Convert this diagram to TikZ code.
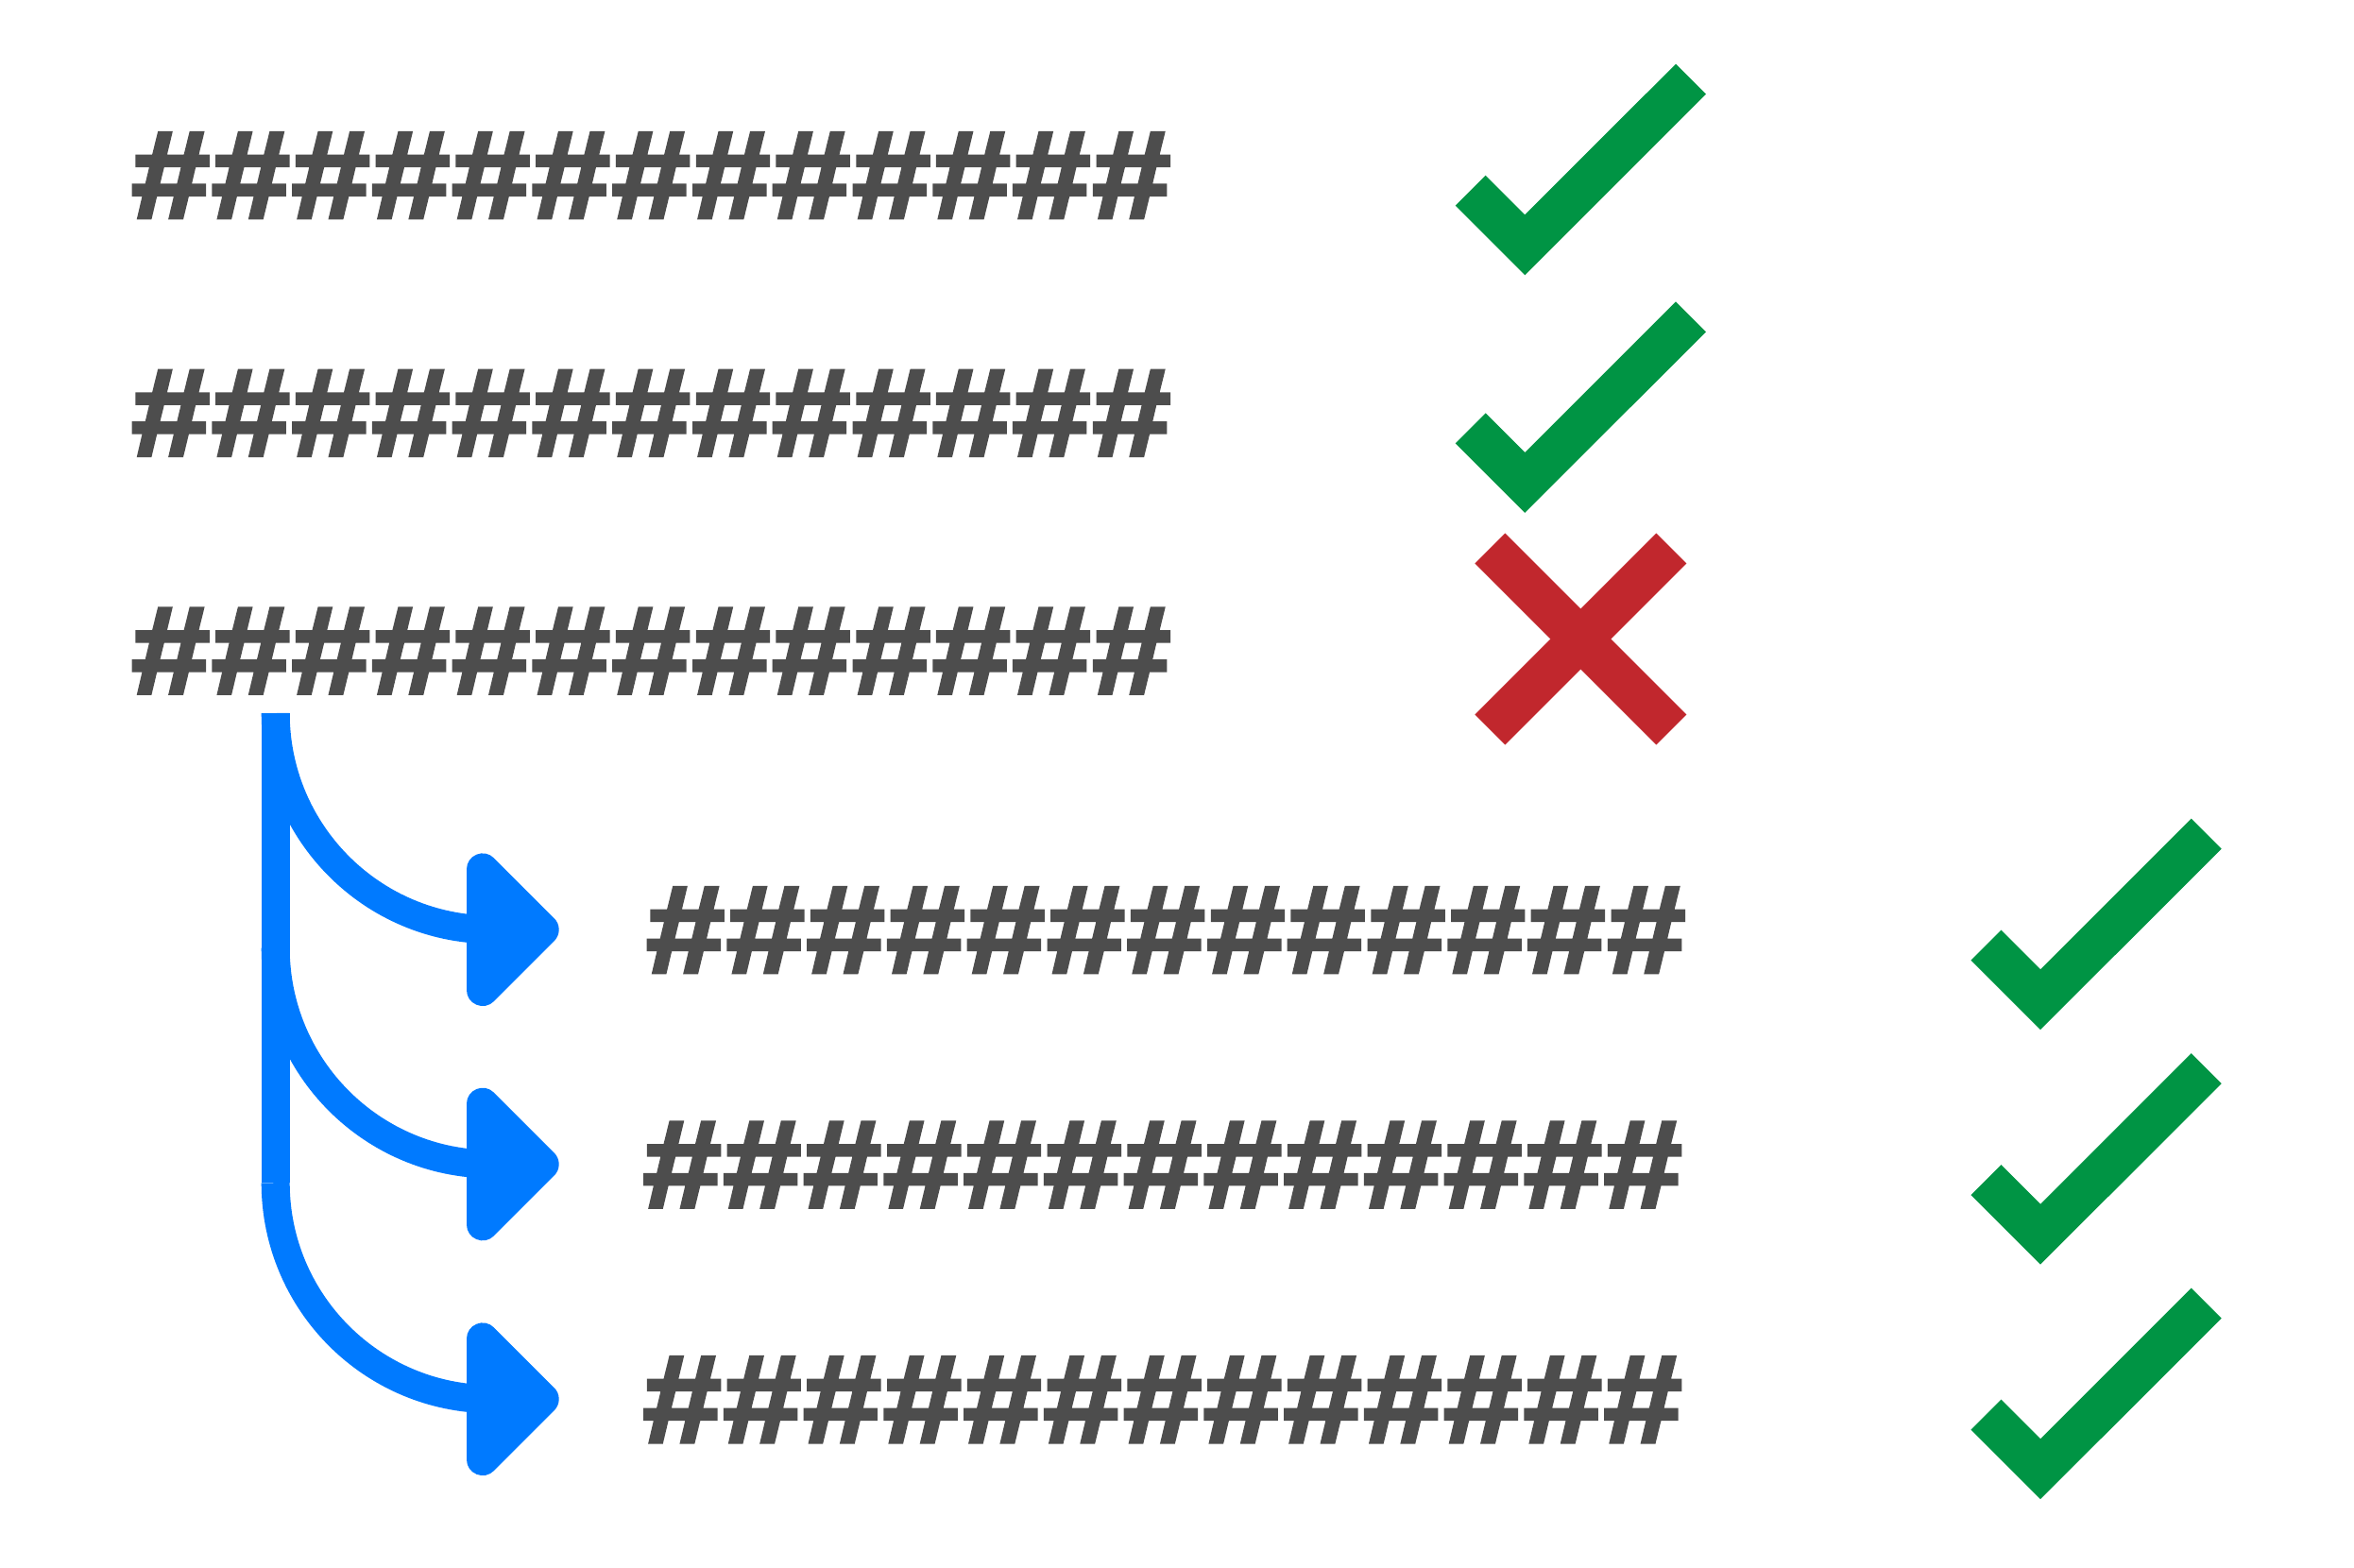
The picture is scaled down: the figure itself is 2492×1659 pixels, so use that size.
\documentclass[tikz,border=0pt]{standalone}
\usepackage{fontspec}
\newfontfamily\hashfont{Liberation Sans}[UprightFont=* Bold, FakeBold=3]
\definecolor{hashgray}{HTML}{4D4D4D}
\definecolor{okgreen}{HTML}{009444}
\definecolor{badred}{HTML}{C1272D}
\definecolor{flowblue}{HTML}{007AFF}
\newcommand\hk{\kern0.95pt}
\newcommand\hashline{\scalebox{1.13}[1]{\#\hk\#\hk\#\hk\#\hk\#\hk\#\hk\#\hk\#\hk\#\hk\#\hk\#\hk\#\hk\#}}
\tikzset{
  hashrow/.style={font=\hashfont\fontsize{65.75pt}{70pt}\selectfont, text=hashgray, inner sep=0pt, anchor=base west},
  tickline/.style={draw=okgreen, line width=22.6pt, line cap=butt, miter limit=10},
  crossline/.style={draw=badred, line width=22.6pt, line cap=butt},
  flowline/.style={draw=flowblue, line width=15pt, line cap=butt},
  headshape/.style={fill=flowblue, draw=flowblue, line width=16.9pt, line join=round},
  okmark/.pic={\draw[tickline] (-57.6,-57.6) -- (0,0) -- (175.7,-175.6);}
}
\begin{document}
\begin{tikzpicture}[x=0.5pt,y=-0.5pt]
\useasboundingbox (0,0) rectangle (2492,1659);
% hash rows
\node[hashrow] (r1) at (139,230.5) {\hashline};
\node[hashrow] (r2) at (139,482.2) {\hashline};
\node[hashrow] (r3) at (139,734) {\hashline};
\node[hashrow] (r4) at (684,1029.5) {\hashline};
\node[hashrow] (r5) at (680.4,1277.9) {\hashline};
\node[hashrow] (r6) at (680.4,1526.5) {\hashline};
% marks
\pic at (1614.3,259.3) {okmark};
\pic at (1614.3,510.9) {okmark};
\draw[crossline] (1577.3,580.5) -- (1769.3,772.5);
\draw[crossline] (1769.3,580.5) -- (1577.3,772.5);
\pic at (2160,1058.2) {okmark};
\pic at (2160,1306.7) {okmark};
\pic at (2160,1555.2) {okmark};
% flow
\coordinate (b1) at (291.7,755);
\coordinate (b2) at (291.7,1003.5);
\coordinate (b3) at (291.7,1252.2);
\coordinate (e1) at (520.7,984.2);
\coordinate (e2) at (520.7,1232.5);
\coordinate (e3) at (520.7,1481.2);
\draw[flowline] (b1) -- (b3);
\foreach \i in {1,2,3}{
  \draw[flowline] (b\i) .. controls ([yshift=-63.25pt]b\i) and ([xshift=-63.25pt]e\i) .. (e\i);
}
\foreach \c in {984.2,1232.5,1481.2}{
  \filldraw[headshape] (510.9,\c-63.9) -- (574.8,\c) -- (510.9,\c+63.9) -- cycle;
}
\end{tikzpicture}
\end{document}
